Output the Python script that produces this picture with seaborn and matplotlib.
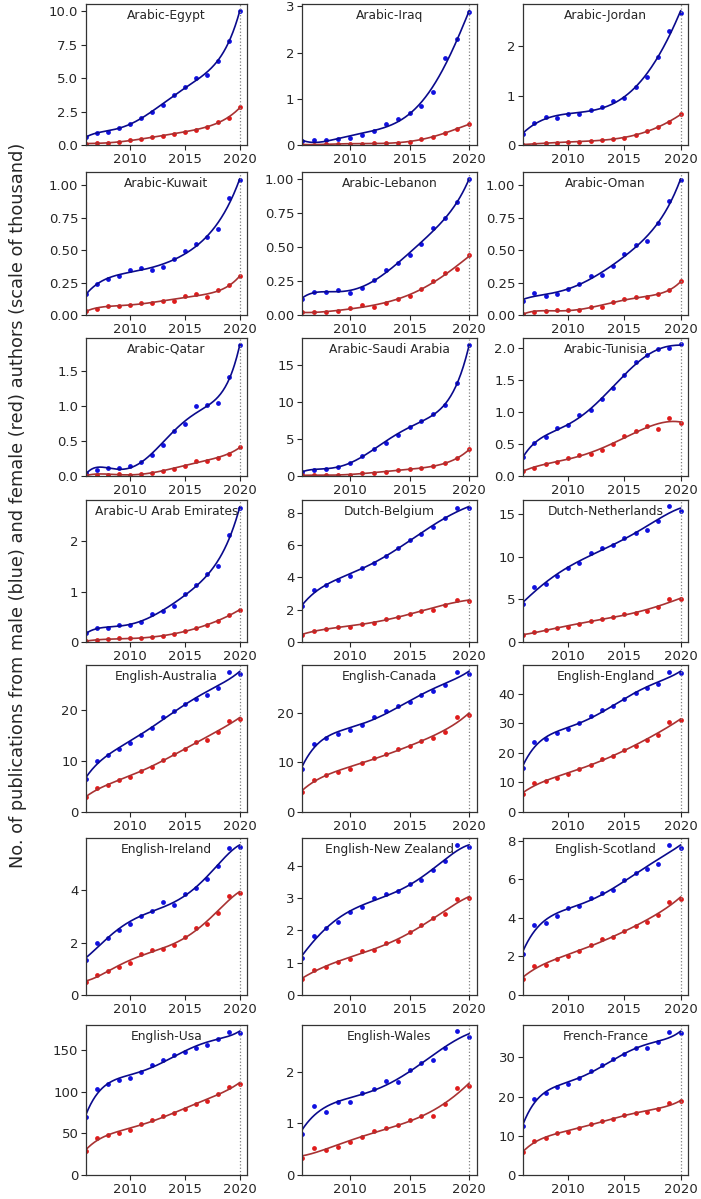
import numpy as np
import matplotlib
matplotlib.use("Agg")
import matplotlib.pyplot as plt
from matplotlib.ticker import MaxNLocator
import seaborn as sns

# years covered by every panel
years = np.arange(2006, 2021)

panels = [
    "Arabic-Egypt", "Arabic-Iraq", "Arabic-Jordan",
    "Arabic-Kuwait", "Arabic-Lebanon", "Arabic-Oman",
    "Arabic-Qatar", "Arabic-Saudi Arabia", "Arabic-Tunisia",
    "Arabic-U Arab Emirates", "Dutch-Belgium", "Dutch-Netherlands",
    "English-Australia", "English-Canada", "English-England",
    "English-Ireland", "English-New Zealand", "English-Scotland",
    "English-Usa", "English-Wales", "French-France",
]

# publications from male authors (thousands), 2006..2020
male = [
    [0.6, 0.9, 1.0, 1.3, 1.6, 2.0, 2.45, 3.0, 3.7, 4.3, 5.0, 5.2, 6.3, 7.8, 10.0],
    [0.08, 0.1, 0.1, 0.13, 0.15, 0.22, 0.3, 0.46, 0.56, 0.7, 0.84, 1.15, 1.88, 2.3, 2.88],
    [0.22, 0.45, 0.57, 0.55, 0.62, 0.63, 0.7, 0.78, 0.9, 0.95, 1.18, 1.37, 1.78, 2.32, 2.68],
    [0.16, 0.24, 0.28, 0.3, 0.35, 0.36, 0.35, 0.37, 0.43, 0.49, 0.55, 0.6, 0.66, 0.9, 1.04],
    [0.12, 0.17, 0.17, 0.18, 0.16, 0.2, 0.26, 0.33, 0.38, 0.44, 0.52, 0.64, 0.71, 0.83, 1.0],
    [0.11, 0.17, 0.15, 0.16, 0.2, 0.24, 0.3, 0.31, 0.38, 0.47, 0.54, 0.57, 0.71, 0.88, 1.04],
    [0.05, 0.08, 0.11, 0.12, 0.15, 0.2, 0.3, 0.44, 0.65, 0.75, 1.0, 1.01, 1.04, 1.41, 1.88],
    [0.6, 0.8, 1.0, 1.2, 1.8, 2.7, 3.6, 4.5, 5.6, 6.7, 7.5, 8.4, 9.6, 12.6, 17.8],
    [0.3, 0.51, 0.6, 0.74, 0.8, 0.95, 1.02, 1.2, 1.37, 1.58, 1.77, 1.88, 1.97, 2.0, 2.05],
    [0.17, 0.27, 0.28, 0.34, 0.34, 0.39, 0.55, 0.62, 0.72, 0.96, 1.13, 1.34, 1.5, 2.12, 2.66],
    [2.2, 3.2, 3.5, 3.85, 4.1, 4.6, 4.9, 5.35, 5.85, 6.3, 6.7, 7.1, 7.65, 8.3, 8.3],
    [4.4, 6.5, 6.8, 7.7, 8.7, 9.3, 10.4, 11.0, 11.4, 12.2, 12.8, 13.1, 14.2, 15.9, 15.4],
    [6.5, 9.9, 11.2, 12.4, 13.5, 15.1, 16.5, 18.6, 19.8, 21.2, 22.2, 22.8, 24.3, 27.3, 27.0],
    [8.7, 13.8, 15.0, 15.8, 16.5, 17.5, 19.1, 20.3, 21.3, 22.2, 23.5, 24.4, 25.5, 28.3, 27.9],
    [15.0, 23.8, 24.6, 26.6, 28.2, 30.0, 32.4, 34.5, 36.0, 38.3, 40.2, 42.0, 43.2, 47.5, 47.0],
    [1.35, 1.97, 2.17, 2.48, 2.7, 3.03, 3.2, 3.55, 3.45, 3.85, 4.07, 4.42, 4.92, 5.62, 5.65],
    [1.15, 1.83, 2.08, 2.25, 2.56, 2.74, 3.02, 3.12, 3.23, 3.44, 3.56, 3.88, 4.15, 4.66, 4.58],
    [2.15, 3.65, 3.72, 4.12, 4.52, 4.62, 5.02, 5.3, 5.45, 5.95, 6.35, 6.55, 6.8, 7.8, 7.65],
    [70, 104, 109, 114, 117, 124, 133, 138, 144, 148, 153, 157, 164, 172, 171],
    [0.8, 1.34, 1.21, 1.42, 1.41, 1.58, 1.67, 1.82, 1.8, 2.04, 2.16, 2.22, 2.45, 2.78, 2.67],
    [12.5, 19.4, 21.0, 22.4, 23.2, 24.7, 26.6, 28.0, 29.6, 31.0, 32.3, 32.5, 33.9, 36.4, 36.2],
]

# publications from female authors (thousands), 2006..2020
female = [
    [0.1, 0.15, 0.15, 0.2, 0.35, 0.45, 0.6, 0.7, 0.8, 1.0, 1.15, 1.35, 1.7, 2.05, 2.8],
    [0.01, 0.01, 0.02, 0.02, 0.02, 0.03, 0.04, 0.04, 0.05, 0.07, 0.12, 0.18, 0.27, 0.35, 0.45],
    [0.01, 0.02, 0.04, 0.05, 0.06, 0.07, 0.08, 0.1, 0.12, 0.15, 0.2, 0.28, 0.37, 0.47, 0.62],
    [0.03, 0.05, 0.07, 0.07, 0.08, 0.09, 0.09, 0.11, 0.11, 0.15, 0.16, 0.14, 0.19, 0.23, 0.3],
    [0.02, 0.02, 0.02, 0.03, 0.05, 0.07, 0.06, 0.09, 0.12, 0.14, 0.19, 0.25, 0.31, 0.34, 0.44],
    [0.01, 0.02, 0.03, 0.04, 0.04, 0.04, 0.06, 0.06, 0.1, 0.12, 0.14, 0.14, 0.16, 0.19, 0.26],
    [0.01, 0.02, 0.02, 0.03, 0.02, 0.03, 0.04, 0.07, 0.1, 0.15, 0.22, 0.21, 0.26, 0.32, 0.41],
    [0.1, 0.1, 0.1, 0.15, 0.2, 0.35, 0.45, 0.6, 0.75, 0.9, 1.1, 1.35, 1.75, 2.4, 3.6],
    [0.08, 0.13, 0.18, 0.22, 0.28, 0.33, 0.35, 0.4, 0.5, 0.62, 0.7, 0.78, 0.73, 0.9, 0.83],
    [0.02, 0.04, 0.05, 0.07, 0.07, 0.08, 0.1, 0.12, 0.15, 0.22, 0.28, 0.34, 0.41, 0.53, 0.64],
    [0.45, 0.7, 0.8, 0.9, 0.95, 1.1, 1.2, 1.4, 1.55, 1.75, 1.95, 2.0, 2.3, 2.6, 2.55],
    [0.8, 1.2, 1.4, 1.6, 1.8, 2.1, 2.5, 2.7, 2.9, 3.3, 3.4, 3.6, 4.1, 5.0, 5.0],
    [2.9, 4.6, 5.3, 6.3, 6.9, 8.0, 8.8, 10.2, 11.4, 12.4, 13.7, 14.1, 15.6, 17.9, 18.2],
    [4.1, 6.5, 7.5, 8.1, 8.7, 9.9, 10.8, 11.7, 12.6, 13.3, 14.3, 15.0, 16.1, 19.1, 19.6],
    [6.2, 9.7, 10.5, 11.5, 13.0, 14.5, 16.0, 18.0, 19.0, 21.0, 22.5, 24.5, 26.0, 30.5, 31.0],
    [0.5, 0.78, 0.92, 1.07, 1.23, 1.58, 1.72, 1.77, 1.9, 2.2, 2.57, 2.72, 3.12, 3.78, 3.9],
    [0.5, 0.77, 0.88, 1.02, 1.13, 1.37, 1.38, 1.6, 1.68, 1.95, 2.16, 2.4, 2.5, 2.97, 3.02],
    [0.85, 1.52, 1.58, 1.85, 2.02, 2.28, 2.6, 2.9, 3.0, 3.3, 3.6, 3.8, 4.15, 4.85, 5.0],
    [29, 45, 48, 51, 54, 61, 66, 71, 75, 80, 85, 89, 97, 106, 110],
    [0.33, 0.52, 0.48, 0.55, 0.63, 0.74, 0.85, 0.91, 0.96, 1.06, 1.15, 1.15, 1.38, 1.69, 1.73],
    [5.8, 8.7, 9.5, 10.6, 11.0, 12.0, 13.0, 13.8, 14.4, 15.2, 15.9, 16.0, 16.9, 18.3, 18.8],
]

sns.set_style("ticks")
plt.rcParams["font.family"] = ["DejaVu Sans"]

W, H = 701, 1199
fig = plt.figure(figsize=(W / 100, H / 100), dpi=100)

# panel edges in pixels (left, right) / (top, bottom)
col_px = [(86, 247), (302, 477), (523, 688)]
row_px = [(4, 145), (172, 315), (338, 476), (500, 642), (665, 812), (838, 995), (1025, 1175)]

xfit = np.linspace(2006, 2020, 200)

for i, name in enumerate(panels):
    r, c = divmod(i, 3)
    l, rr = col_px[c]
    t, b = row_px[r]
    ax = fig.add_axes([l / W, 1 - b / H, (rr - l) / W, (b - t) / H])

    for vals, dot_col, line_col in [(male[i], "#1010e0", "#0a0a8c"),
                                    (female[i], "#e01b1b", "#a83232")]:
        vals = np.array(vals, dtype=float)
        coef = np.polyfit(years - 2013, vals, 5)
        yfit = np.polyval(coef, xfit - 2013)
        sns.lineplot(x=xfit, y=yfit, color=line_col, lw=1.2, ax=ax)
        sns.scatterplot(x=years, y=vals, color=dot_col, s=12, linewidth=0, ax=ax)

    ax.axvline(2020, color="grey", ls=":", lw=0.9)
    ax.set_xlim(2006, 2020.65)
    ax.set_ylim(bottom=0)
    ax.set_xticks([2010, 2015, 2020])
    ax.yaxis.set_major_locator(MaxNLocator(nbins=5, steps=[1, 2, 2.5, 5, 10]))
    ax.tick_params(labelsize=9.5, length=3.5, width=0.8, pad=2)
    for sp in ax.spines.values():
        sp.set_color("#333333")
        sp.set_linewidth(0.9)
    ax.text(0.5, 0.965, name, transform=ax.transAxes, ha="center", va="top", fontsize=8.8)

fig.text(0.026, 1 - 505 / H,
         "No. of publications from male (blue) and female (red) authors (scale of thousand)",
         rotation=90, ha="center", va="center", fontsize=12.8)

fig.savefig("out.png", dpi=100)
